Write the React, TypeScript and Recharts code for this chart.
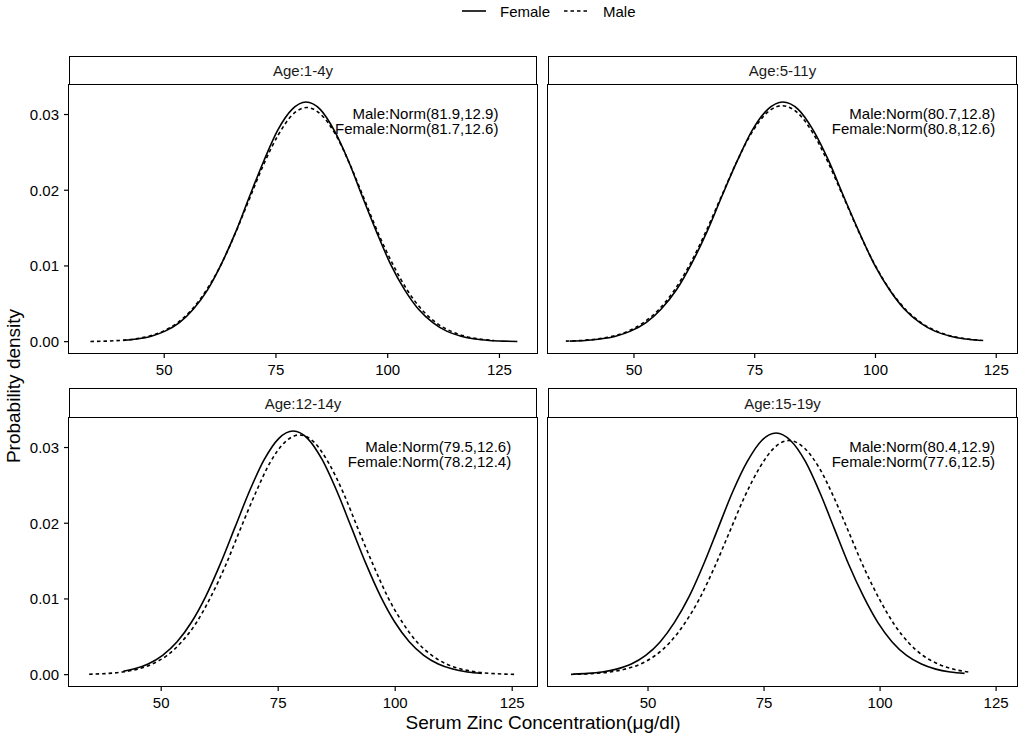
import React from 'react';
import { LineChart, Line, XAxis, YAxis, ReferenceDot } from 'recharts';

const FONT = '"Liberation Sans", Arial, Helvetica, sans-serif';

// facet titles and the fitted-normal notes shown in each facet
const panelTitles = ['Age:1-4y', 'Age:5-11y', 'Age:12-14y', 'Age:15-19y'];
const maleNotes = ['Male:Norm(81.9,12.9)', 'Male:Norm(80.7,12.8)', 'Male:Norm(79.5,12.6)', 'Male:Norm(80.4,12.9)'];
const femaleNotes = ['Female:Norm(81.7,12.6)', 'Female:Norm(80.8,12.6)', 'Female:Norm(78.2,12.4)', 'Female:Norm(77.6,12.5)'];

const xTicks = [50, 75, 100, 125];
const yTicks = [0, 0.01, 0.02, 0.03];

// free x scales, one range per facet
const xDomains: [number, number][] = [
  [28.7, 133.4],
  [32.2, 129.3],
  [30.3, 130.3],
  [28.45, 129.5],
];
const yDomain: [number, number] = [-0.0015, 0.0339];

// Age 1-4y
const age1MaleX = [33.5, 36.8, 40.0, 43.2, 46.4, 49.7, 52.9, 56.1, 59.3, 62.6, 65.8, 69.0, 72.2, 75.5, 78.7, 81.9, 85.1, 88.4, 91.6, 94.8, 98.0, 101.3, 104.5, 107.7, 110.9, 114.2, 117.4, 120.6, 123.8];
const age1MaleY = [0.000027, 0.000067, 0.000157, 0.000343, 0.000705, 0.001359, 0.00246, 0.004185, 0.006688, 0.01004, 0.014159, 0.018757, 0.023344, 0.027292, 0.029975, 0.030926, 0.029975, 0.027292, 0.023344, 0.018757, 0.014159, 0.01004, 0.006688, 0.004185, 0.00246, 0.001359, 0.000705, 0.000343, 0.000157];
const age1FemaleX = [40.8, 43.9, 47.1, 50.2, 53.4, 56.5, 59.7, 62.8, 66.0, 69.1, 72.3, 75.4, 78.6, 81.7, 84.9, 88.0, 91.2, 94.3, 97.5, 100.6, 103.8, 106.9, 110.1, 113.2, 116.4, 119.5, 122.7, 125.8, 129.0];
const age1FemaleY = [0.000161, 0.000352, 0.000721, 0.001391, 0.002519, 0.004285, 0.006848, 0.010279, 0.014496, 0.019204, 0.0239, 0.027942, 0.030688, 0.031662, 0.030688, 0.027942, 0.0239, 0.019204, 0.014496, 0.010279, 0.006848, 0.004285, 0.002519, 0.001391, 0.000721, 0.000352, 0.000161, 0.000069, 0.000028];

// Age 5-11y
const age5MaleX = [35.9, 39.1, 42.3, 45.5, 48.7, 51.9, 55.1, 58.3, 61.5, 64.7, 67.9, 71.1, 74.3, 77.5, 80.7, 83.9, 87.1, 90.3, 93.5, 96.7, 99.9, 103.1, 106.3, 109.5, 112.7, 115.9, 119.1, 122.3];
const age5MaleY = [0.000068, 0.000159, 0.000346, 0.00071, 0.00137, 0.00248, 0.004218, 0.006741, 0.010119, 0.01427, 0.018904, 0.023527, 0.027505, 0.030209, 0.031167, 0.030209, 0.027505, 0.023527, 0.018904, 0.01427, 0.010119, 0.006741, 0.004218, 0.00248, 0.00137, 0.00071, 0.000346, 0.000159];
const age5FemaleX = [36.7, 39.9, 43.0, 46.2, 49.3, 52.5, 55.6, 58.8, 61.9, 65.1, 68.2, 71.4, 74.5, 77.7, 80.8, 84.0, 87.1, 90.3, 93.4, 96.6, 99.7, 102.9, 106.0, 109.2, 112.3, 115.5, 118.6, 121.8];
const age5FemaleY = [0.000069, 0.000161, 0.000352, 0.000721, 0.001391, 0.002519, 0.004285, 0.006848, 0.010279, 0.014496, 0.019204, 0.0239, 0.027942, 0.030688, 0.031662, 0.030688, 0.027942, 0.0239, 0.019204, 0.014496, 0.010279, 0.006848, 0.004285, 0.002519, 0.001391, 0.000721, 0.000352, 0.000161];

// Age 12-14y
const age12MaleX = [34.6, 35.4, 38.6, 41.7, 44.9, 48.0, 51.2, 54.3, 57.5, 60.6, 63.8, 66.9, 70.1, 73.2, 76.4, 79.5, 82.7, 85.8, 89.0, 92.1, 95.3, 98.4, 101.6, 104.7, 107.9, 111.0, 114.2, 117.3, 120.5, 123.6, 125.4];
const age12MaleY = [0.000056, 0.000069, 0.000161, 0.000352, 0.000721, 0.001391, 0.002519, 0.004285, 0.006848, 0.010279, 0.014496, 0.019204, 0.0239, 0.027942, 0.030688, 0.031662, 0.030688, 0.027942, 0.0239, 0.019204, 0.014496, 0.010279, 0.006848, 0.004285, 0.002519, 0.001391, 0.000721, 0.000352, 0.000161, 0.000069, 0.000042];
const age12FemaleX = [41.9, 44.1, 47.2, 50.3, 53.4, 56.5, 59.6, 62.7, 65.8, 68.9, 72.0, 75.1, 78.2, 81.3, 84.4, 87.5, 90.6, 93.7, 96.8, 99.9, 103.0, 106.1, 109.2, 112.3, 115.4, 118.5];
const age12FemaleY = [0.000442, 0.000733, 0.001414, 0.00256, 0.004354, 0.006958, 0.010445, 0.01473, 0.019514, 0.024285, 0.028393, 0.031183, 0.032173, 0.031183, 0.028393, 0.024285, 0.019514, 0.01473, 0.010445, 0.006958, 0.004354, 0.00256, 0.001414, 0.000733, 0.000357, 0.000164];

// Age 15-19y
const age15MaleX = [33.4, 35.3, 38.5, 41.7, 44.9, 48.2, 51.4, 54.6, 57.8, 61.1, 64.3, 67.5, 70.7, 74.0, 77.2, 80.4, 83.6, 86.9, 90.1, 93.3, 96.5, 99.8, 103.0, 106.2, 109.4, 112.7, 115.9, 119.1];
const age15MaleY = [0.000041, 0.000067, 0.000157, 0.000343, 0.000705, 0.001359, 0.00246, 0.004185, 0.006688, 0.01004, 0.014159, 0.018757, 0.023344, 0.027292, 0.029975, 0.030926, 0.029975, 0.027292, 0.023344, 0.018757, 0.014159, 0.01004, 0.006688, 0.004185, 0.00246, 0.001359, 0.000705, 0.000343];
const age15FemaleX = [33.9, 37.0, 40.1, 43.2, 46.4, 49.5, 52.6, 55.7, 58.9, 62.0, 65.1, 68.2, 71.4, 74.5, 77.6, 80.7, 83.9, 87.0, 90.1, 93.2, 96.4, 99.5, 102.6, 105.7, 108.9, 112.0, 115.1, 118.2];
const age15FemaleY = [0.00007, 0.000162, 0.000354, 0.000727, 0.001402, 0.002539, 0.004319, 0.006902, 0.010362, 0.014612, 0.019358, 0.024091, 0.028166, 0.030934, 0.031915, 0.030934, 0.028166, 0.024091, 0.019358, 0.014612, 0.010362, 0.006902, 0.004319, 0.002539, 0.001402, 0.000727, 0.000354, 0.000162];

const zip = (xs: number[], ys: number[]) => xs.map((x, i) => ({ x, y: ys[i] }));

const maleSeries = [
  zip(age1MaleX, age1MaleY),
  zip(age5MaleX, age5MaleY),
  zip(age12MaleX, age12MaleY),
  zip(age15MaleX, age15MaleY),
];
const femaleSeries = [
  zip(age1FemaleX, age1FemaleY),
  zip(age5FemaleX, age5FemaleY),
  zip(age12FemaleX, age12FemaleY),
  zip(age15FemaleX, age15FemaleY),
];

const PLOT_H = 268;
const X_AXIS_H = 40;
const Y_AXIS_W = 69;
const DASH = '3.5 3';

const tickStyle = { fill: '#000', fontSize: 15, fontFamily: FONT };

function Panel({ idx, left, top, stripH, showY }: { idx: number; left: number; top: number; stripH: number; showY: boolean }) {
  const yW = showY ? Y_AXIS_W : 0;
  const plotW = showY ? 468 : 469;
  const noteLabel = (value: string) => ({
    value,
    position: 'left' as const,
    offset: 0,
    fill: '#000',
    fontSize: 15,
    fontFamily: FONT,
  });

  return (
    <>
      <div
        style={{
          position: 'absolute',
          left: left + yW,
          top: top - stripH,
          width: plotW,
          height: stripH,
          boxSizing: 'border-box',
          border: '1.5px solid #000',
          background: '#fff',
          display: 'flex',
          alignItems: 'center',
          justifyContent: 'center',
          fontFamily: FONT,
          fontSize: 15,
          color: '#1a1a1a',
        }}
      >
        {panelTitles[idx]}
      </div>
      <div style={{ position: 'absolute', left, top }}>
        <LineChart width={yW + plotW} height={PLOT_H + X_AXIS_H} margin={{ top: 0, right: 0, bottom: 0, left: 0 }}>
          <XAxis
            dataKey="x"
            type="number"
            domain={xDomains[idx]}
            ticks={xTicks}
            interval={0}
            allowDataOverflow
            axisLine={false}
            tickLine={{ stroke: '#000', strokeWidth: 1.2 }}
            tickSize={5}
            tickMargin={6}
            height={X_AXIS_H}
            tick={tickStyle}
          />
          <YAxis
            type="number"
            domain={yDomain}
            ticks={yTicks}
            interval={0}
            allowDataOverflow
            hide={!showY}
            width={yW}
            axisLine={false}
            tickLine={{ stroke: '#000', strokeWidth: 1.2 }}
            tickSize={5}
            tickMargin={5}
            tick={tickStyle}
            tickFormatter={(v: number) => v.toFixed(2)}
          />
          <Line
            data={femaleSeries[idx]}
            dataKey="y"
            type="monotone"
            stroke="#000"
            strokeWidth={1.6}
            dot={false}
            isAnimationActive={false}
          />
          <Line
            data={maleSeries[idx]}
            dataKey="y"
            type="monotone"
            stroke="#000"
            strokeWidth={1.6}
            strokeDasharray={DASH}
            dot={false}
            isAnimationActive={false}
          />
          <ReferenceDot x={125} y={0.0301} r={1} fill="none" stroke="none" label={noteLabel(maleNotes[idx])} />
          <ReferenceDot x={125} y={0.0281} r={1} fill="none" stroke="none" label={noteLabel(femaleNotes[idx])} />
        </LineChart>
      </div>
      <div
        style={{
          position: 'absolute',
          left: left + yW - 0.75,
          top: top - 0.75,
          width: plotW + 1.5,
          height: PLOT_H + 1.5,
          boxSizing: 'border-box',
          border: '1.5px solid #000',
          pointerEvents: 'none',
        }}
      />
    </>
  );
}

export default function App() {
  return (
    <div
      style={{
        position: 'absolute',
        left: 0,
        top: 0,
        width: 1021,
        height: 737,
        background: '#fff',
        fontFamily: FONT,
        overflow: 'hidden',
      }}
    >
      <svg width={1021} height={26} style={{ position: 'absolute', left: 0, top: 0 }}>
        <line x1={462} x2={486} y1={11} y2={11} stroke="#000" strokeWidth={1.6} />
        <text x={500} y={11} dominantBaseline="central" fontSize={15} fontFamily={FONT} fill="#000">
          Female
        </text>
        <line x1={564} x2={588} y1={11} y2={11} stroke="#000" strokeWidth={1.6} strokeDasharray={DASH} />
        <text x={603} y={11} dominantBaseline="central" fontSize={15} fontFamily={FONT} fill="#000">
          Male
        </text>
      </svg>

      <Panel idx={0} left={0} top={85} stripH={29} showY />
      <Panel idx={1} left={548} top={85} stripH={29} showY={false} />
      <Panel idx={2} left={0} top={418} stripH={30} showY />
      <Panel idx={3} left={548} top={418} stripH={30} showY={false} />

      <div
        style={{
          position: 'absolute',
          left: 14,
          top: 386,
          transform: 'translate(-50%, -50%) rotate(-90deg)',
          whiteSpace: 'nowrap',
          fontSize: 19,
          color: '#000',
        }}
      >
        Probability density
      </div>
      <div
        style={{
          position: 'absolute',
          left: 543,
          top: 723,
          transform: 'translate(-50%, -50%)',
          whiteSpace: 'nowrap',
          fontSize: 19,
          color: '#000',
        }}
      >
        Serum Zinc Concentration(μg/dl)
      </div>
    </div>
  );
}
